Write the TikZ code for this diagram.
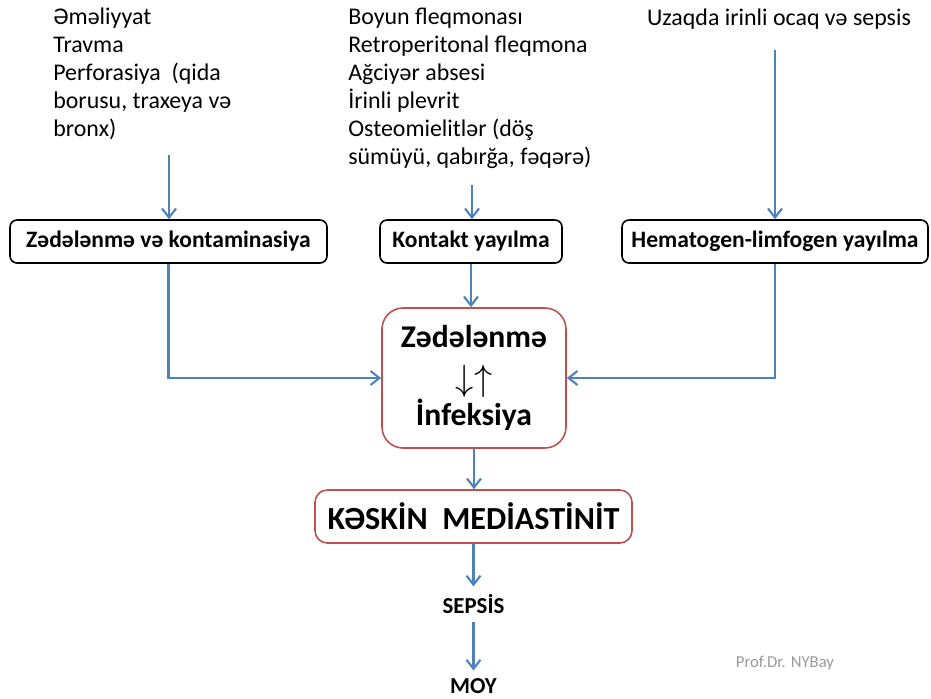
\documentclass[tikz,border=0pt]{standalone}
\usepackage{fontspec}
\setmainfont{Carlito}
\usetikzlibrary{arrows.meta, positioning, calc}

\definecolor{flowblue}{HTML}{4F81BD}
\definecolor{boxred}{HTML}{C0504D}

\begin{document}
\begin{tikzpicture}[
  srcbox/.style={draw=black, line width=0.9pt, rounded corners=4pt, minimum height=0.86cm,
                 font=\fontsize{13.4}{15}\selectfont\bfseries, inner sep=0pt},
  redbox/.style={draw=boxred, line width=0.9pt, fill=white, align=center, inner sep=0pt},
  flow/.style={-{Straight Barb[length=1.8mm, width=2.8mm]}, draw=flowblue, line width=1.2pt},
  list/.style={anchor=north west, align=left, inner sep=0pt, font=\fontsize{13.6}{15.9}\selectfont}
]
  \useasboundingbox (0,0) rectangle (18.62,-13.96);

  % sources
  \node[list] (ltext) at (1.06,-0.16) {Əməliyyat\\Travma\\Perforasiya~ (qida\\borusu, traxeya və\\bronx)};
  \node[list] (mtext) at (6.96,-0.16) {Boyun fleqmonası\\Retroperitonal fleqmona\\Ağciyər absesi\\İrinli plevrit\\Osteomielitlər (döş\\sümüyü, qabırğa, fəqərə)};
  \node[font=\fontsize{13.6}{15.9}\selectfont, inner sep=0pt] (rtext) at (15.58,-0.38) {Uzaqda irinli ocaq və sepsis};

  % ways of spreading
  \node[srcbox, minimum width=6.34cm] (lbox) at (3.37,-4.83) {Zədələnmə və kontaminasiya};
  \node[srcbox, minimum width=3.64cm] (kbox) at (9.42,-4.83) {Kontakt yayılma};
  \node[srcbox, minimum width=6.12cm] (hbox) at (15.5,-4.83) {Hematogen-limfogen yayılma};

  % centre
  \node[redbox, rounded corners=12pt, minimum width=3.68cm, minimum height=2.8cm,
        font=\fontsize{18}{20}\selectfont\bfseries] (core) at (9.48,-7.56)
        {Zədələnmə\\[4pt]{\fontsize{20}{21}\selectfont$\downarrow\uparrow$}\\[0pt]İnfeksiya};
  \node[redbox, rounded corners=7pt, minimum width=6.34cm, minimum height=1.06cm,
        font=\fontsize{18.3}{20}\selectfont\bfseries] (acute) at (9.47,-10.33) {KƏSKİN~ MEDİASTİNİT};

  \node[font=\fontsize{13}{15}\selectfont\bfseries] (sepsis) at (9.47,-12.08) {SEPSİS};
  \node[font=\fontsize{13}{15}\selectfont\bfseries] (moy) at (9.47,-13.72) {MOY};

  \node[text=gray!80, font=\fontsize{9.5}{11}\selectfont] (sign) at (15.7,-13.26) {Prof.Dr. NYBay};

  % arrows
  \coordinate (lstart) at (3.38,-3.1);
  \coordinate (mstart) at (9.44,-3.7);
  \draw[flow] (lstart) -- (lstart |- lbox.north);
  \draw[flow] (mstart) -- (mstart |- kbox.north);
  \draw[flow] ([yshift=-0.4cm]rtext.south -| hbox.north) -- (hbox.north);

  \draw[flow] (kbox.south) -- (kbox.south |- core.north);
  \draw[flow] (lbox.south) |- (core.west);
  \draw[flow] (hbox.south) |- (core.east);

  \draw[flow] (core.south) -- (core.south |- acute.north);
  \draw[flow] (acute.south -| sepsis) -- ([yshift=1pt]sepsis.north);
  \draw[flow] ([yshift=-1pt]sepsis.south) -- ([yshift=1pt]moy.north);
\end{tikzpicture}
\end{document}
